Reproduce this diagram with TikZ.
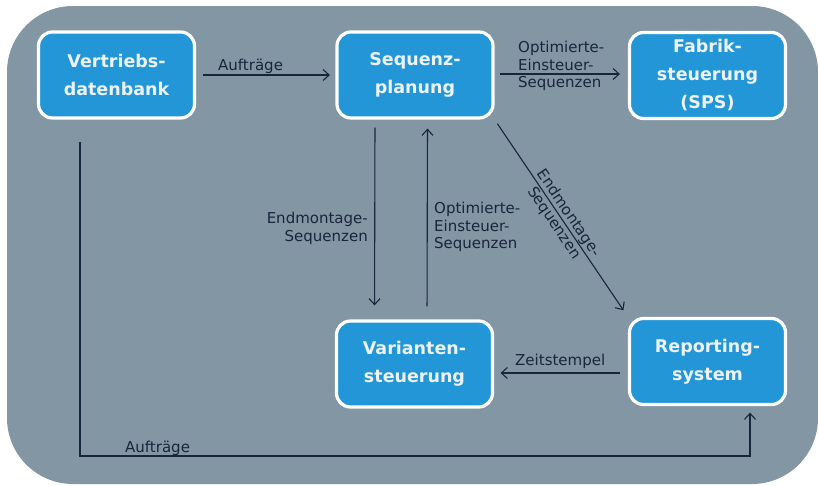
\documentclass[tikz,border=0pt]{standalone}
\usepackage{fontspec}
\setmainfont{DejaVu Sans}
\usetikzlibrary{arrows.meta}
\definecolor{paneblue}{RGB}{131,150,163}
\definecolor{boxblue}{RGB}{34,150,214}
\definecolor{inkblue}{RGB}{24,38,60}
\definecolor{boxtext}{RGB}{236,242,246}
\begin{document}
\begin{tikzpicture}[x=1pt,y=-1pt,
    unit/.style={draw=white,line width=3.2pt,fill=boxblue,rectangle,rounded corners=14pt,
      minimum width=156pt,minimum height=86pt,inner sep=2pt,align=center,text=boxtext,
      font=\fontsize{17.5}{28}\selectfont\bfseries},
    flow/.style={draw=inkblue,line width=1.1pt,-{Straight Barb[length=6pt,width=11pt]}},
    tag/.style={text=inkblue,inner sep=0pt,font=\fontsize{15}{17.5}\selectfont}]
        \useasboundingbox (0,0) rectangle (818,485);
        %% Panel
        \fill[paneblue,rounded corners=66pt] (7,6) rectangle (818,484);
        %% Boxes
        \node[unit] (VD) at (116.5,75) {Vertriebs-\\datenbank};
        \node[unit] (SP) at (415,75) {Sequenz-\\planung};
        \node[unit] (FS) at (707.5,75.5) {Fabrik-\\steuerung\\(SPS)};
        \node[unit] (VS) at (414.5,364) {Varianten-\\steuerung};
        \node[unit] (RS) at (707.5,361.5) {Reporting-\\system};
        %% Flows
        \draw[flow,shorten <=6.5pt,shorten >=5.5pt] (VD) -- (SP);
        \draw[flow,shorten <=5.5pt,shorten >=8pt] ([yshift=1pt]SP.east) -- ([yshift=1pt]SP.east -| FS.west);
        \draw[flow,shorten <=8pt,shorten >=14pt] ([xshift=-40pt]SP.south) -- ([xshift=-40pt]VS.north);
        \draw[flow,shorten <=13pt,shorten >=9pt] ([xshift=12.5pt]VS.north) -- ([xshift=12.5pt]SP.south);
        \draw[flow,shorten <=5pt,shorten >=8pt] (SP.south east) -- node[tag,sloped,align=center] (L4) {Endmontage-\\Sequenzen} (RS.north west);
        \draw[flow,shorten <=7.5pt,shorten >=6.5pt] ([yshift=-11.5pt]RS.west) -- ([yshift=-11.5pt]RS.west -| VS.east);
        \coordinate (bend) at (750,456);
        \draw[flow,shorten <=22pt,shorten >=6.5pt] ([xshift=-36.5pt]VD.south) |- (bend) -- ([xshift=42.5pt]RS.south);
        %% Labels
        \node[tag,anchor=base west] (L1) at (218,70) {Aufträge};
        \node[tag,anchor=north west,align=left] (L2) at (518,41) {Optimierte-\\Einsteuer-\\Sequenzen};
        \node[tag,anchor=north east,align=right] (L3) at (368,212) {Endmontage-\\Sequenzen};
        \node[tag,anchor=north west,align=left] (L5) at (434,202) {Optimierte-\\Einsteuer-\\Sequenzen};
        \node[tag,anchor=base west] (L6) at (515,365) {Zeitstempel};
        \node[tag,anchor=base west] (L7) at (125,452) {Aufträge};
    \end{tikzpicture}
\end{document}
